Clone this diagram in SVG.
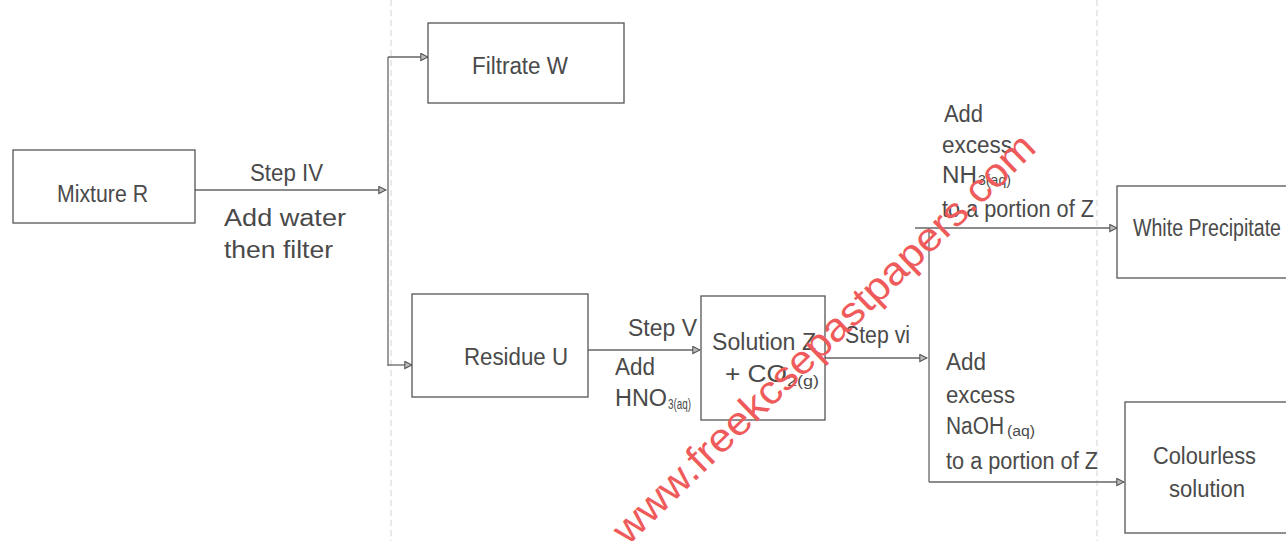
<svg xmlns="http://www.w3.org/2000/svg" width="1286" height="541" viewBox="0 0 1286 541">
<defs>
<marker id="arr" viewBox="0 0 10 10" refX="9" refY="5" markerWidth="9" markerHeight="9" markerUnits="userSpaceOnUse" orient="auto">
<path d="M1,1 L9,5 L1,9 Z" fill="#bbb" stroke="#555" stroke-width="1.2"/>
</marker>
<style>
.box{fill:#fff;stroke:#555;stroke-width:1.3}
.ln{fill:none;stroke:#666;stroke-width:1.3}
.t{font-family:"Liberation Sans",Arial,sans-serif;font-size:23px;fill:#4a4a4a}
.s{font-family:"Liberation Sans",Arial,sans-serif;font-size:14px;fill:#4a4a4a}
.wm{font-family:"Liberation Sans",Arial,sans-serif;font-size:40px;fill:#ef5a5a}
.art{fill:none;stroke:#d4d4d4;stroke-width:1;stroke-dasharray:6 4}
</style>
</defs>
<rect width="1286" height="541" fill="#fff"/>
<g id="scan-artifacts">
<path class="art" d="M391,0 V541"/>
<path class="art" d="M1097,0 V541"/>
</g>
<g id="connectors">
<path class="ln" d="M195,190 H386" marker-end="url(#arr)"/>
<path class="ln" d="M388,57 V366"/>
<path class="ln" d="M388,57 H428" marker-end="url(#arr)"/>
<path class="ln" d="M388,365 H412" marker-end="url(#arr)"/>
<path class="ln" d="M588,350 H700" marker-end="url(#arr)"/>
<path class="ln" d="M825,358 H927" marker-end="url(#arr)"/>
<path class="ln" d="M929,228 V482"/>
<path class="ln" d="M915,228 H1117" marker-end="url(#arr)"/>
<path class="ln" d="M929,482 H1124" marker-end="url(#arr)"/>
</g>
<g id="labels">
<text class="t" x="250" y="181" textLength="73" lengthAdjust="spacingAndGlyphs">Step IV</text>
<text class="t" x="224" y="226" textLength="122" lengthAdjust="spacingAndGlyphs">Add water</text>
<text class="t" x="224" y="258" textLength="109" lengthAdjust="spacingAndGlyphs">then filter</text>
<text class="t" x="628" y="336" textLength="69" lengthAdjust="spacingAndGlyphs">Step V</text>
<text class="t" x="615" y="375" textLength="40" lengthAdjust="spacingAndGlyphs">Add</text>
<text class="t" x="615" y="406" textLength="52" lengthAdjust="spacingAndGlyphs">HNO</text>
<text class="s" x="668" y="409" textLength="23" lengthAdjust="spacingAndGlyphs">3(aq)</text>
<text class="t" x="845" y="343" textLength="65" lengthAdjust="spacingAndGlyphs">Step vi</text>
<text class="t" x="944" y="122" textLength="39" lengthAdjust="spacingAndGlyphs">Add</text>
<text class="t" x="942" y="153" textLength="70" lengthAdjust="spacingAndGlyphs">excess</text>
<text class="t" x="942" y="183" textLength="35" lengthAdjust="spacingAndGlyphs">NH</text>
<text class="s" x="978" y="185" textLength="33" lengthAdjust="spacingAndGlyphs">3(aq)</text>
<text class="t" x="942" y="217" textLength="152" lengthAdjust="spacingAndGlyphs">to a portion of Z</text>
<text class="t" x="946" y="370" textLength="40" lengthAdjust="spacingAndGlyphs">Add</text>
<text class="t" x="946" y="403" textLength="69" lengthAdjust="spacingAndGlyphs">excess</text>
<text class="t" x="946" y="434" textLength="58" lengthAdjust="spacingAndGlyphs">NaOH</text>
<text class="s" x="1007" y="436" textLength="28" lengthAdjust="spacingAndGlyphs">(aq)</text>
<text class="t" x="946" y="469" textLength="152" lengthAdjust="spacingAndGlyphs">to a portion of Z</text>
</g>
<g id="mixture-r">
<rect class="box" x="13" y="150" width="182" height="73"/>
<text class="t" x="57" y="202" textLength="91" lengthAdjust="spacingAndGlyphs">Mixture R</text>
</g>
<g id="filtrate-w">
<rect class="box" x="428" y="23" width="196" height="80"/>
<text class="t" x="472" y="74" textLength="96" lengthAdjust="spacingAndGlyphs">Filtrate W</text>
</g>
<g id="residue-u">
<rect class="box" x="412" y="294" width="176" height="103"/>
<text class="t" x="464" y="365" textLength="104" lengthAdjust="spacingAndGlyphs">Residue U</text>
</g>
<g id="solution-z">
<rect class="box" x="701" y="296" width="124" height="124"/>
<text class="t" x="712" y="350" textLength="104" lengthAdjust="spacingAndGlyphs">Solution Z</text>
<text class="t" x="725" y="382" textLength="62" lengthAdjust="spacingAndGlyphs">+ CO</text>
<text class="s" x="787" y="386" textLength="32" lengthAdjust="spacingAndGlyphs">2(g)</text>
</g>
<g id="white-precipitate">
<rect class="box" x="1117" y="186" width="180" height="92"/>
<text class="t" x="1133" y="236" font-size="21" textLength="148" lengthAdjust="spacingAndGlyphs">White Precipitate</text>
</g>
<g id="colourless-solution">
<rect class="box" x="1125" y="402" width="175" height="131"/>
<text class="t" x="1153" y="464" textLength="103" lengthAdjust="spacingAndGlyphs">Colourless</text>
<text class="t" x="1169" y="497" textLength="76" lengthAdjust="spacingAndGlyphs">solution</text>
</g>
<g id="watermark">
<text class="wm" x="833" y="348" text-anchor="middle" textLength="570" lengthAdjust="spacingAndGlyphs" transform="rotate(-44 833 348)">www.freekcsepastpapers.com</text>
</g>
</svg>
